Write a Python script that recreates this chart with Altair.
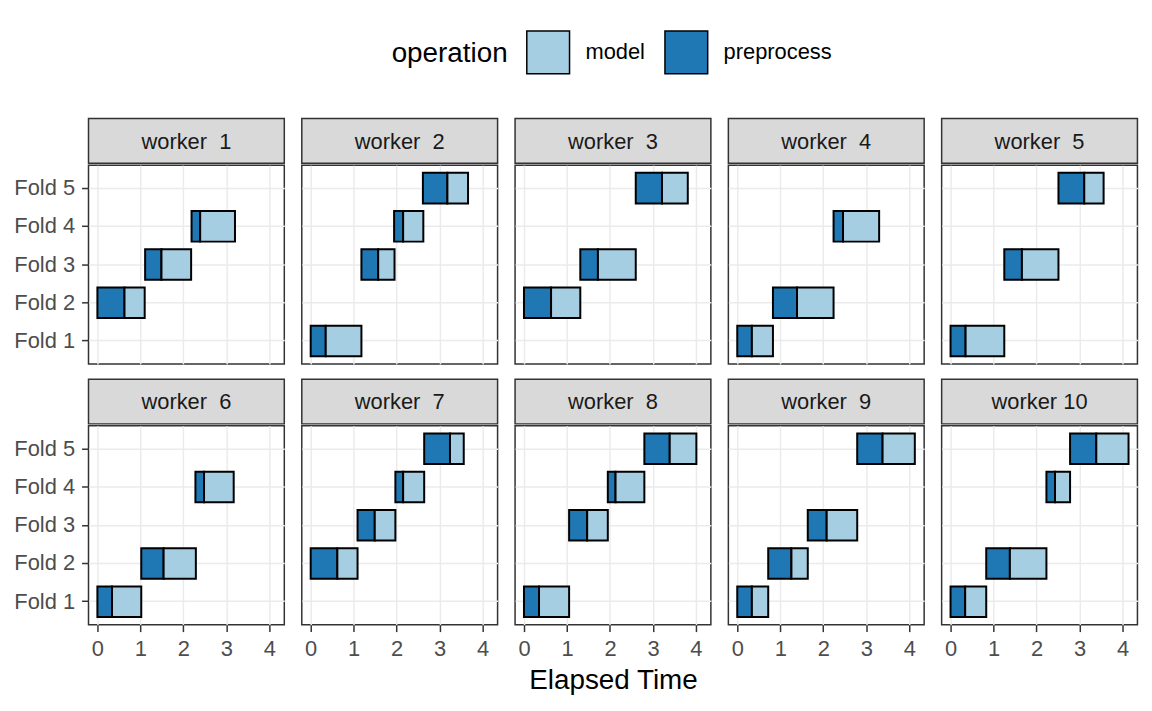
import altair as alt
import pandas as pd

FONT = "Liberation Sans"

# ---- data ----
worker_ids = [1, 1, 1,
              2, 2, 2, 2,
              3, 3, 3,
              4, 4, 4,
              5, 5, 5,
              6, 6, 6,
              7, 7, 7, 7,
              8, 8, 8, 8,
              9, 9, 9, 9,
              10, 10, 10, 10]
fold_ids = [2, 3, 4,
            1, 3, 4, 5,
            2, 3, 5,
            1, 2, 4,
            1, 3, 5,
            1, 2, 4,
            2, 3, 4, 5,
            1, 3, 4, 5,
            1, 2, 3, 5,
            1, 2, 4, 5]
pre_start = [0.00, 1.11, 2.19,
             0.00, 1.18, 1.94, 2.61,
             0.00, 1.31, 2.60,
             0.00, 0.83, 2.24,
             0.00, 1.25, 2.51,
             0.00, 1.02, 2.28,
             0.00, 1.09, 1.97, 2.64,
             0.00, 1.05, 1.95, 2.80,
             0.00, 0.72, 1.64, 2.79,
             0.00, 0.83, 2.23, 2.78]
pre_end = [0.63, 1.49, 2.39,
           0.35, 1.57, 2.15, 3.18,
           0.63, 1.72, 3.21,
           0.34, 1.39, 2.46,
           0.35, 1.66, 3.11,
           0.34, 1.54, 2.48,
           0.62, 1.49, 2.15, 3.24,
           0.35, 1.47, 2.13, 3.39,
           0.34, 1.26, 2.08, 3.38,
           0.34, 1.38, 2.43, 3.39]
model_end = [1.10, 2.18, 3.20,
             1.18, 1.95, 2.62, 3.66,
             1.31, 2.60, 3.81,
             0.83, 2.24, 3.30,
             1.25, 2.51, 3.56,
             1.02, 2.29, 3.17,
             1.09, 1.97, 2.64, 3.56,
             1.05, 1.95, 2.80, 4.01,
             0.72, 1.64, 2.79, 4.13,
             0.83, 2.23, 2.78, 4.14]

fold_labels = ["Fold 5", "Fold 4", "Fold 3", "Fold 2", "Fold 1"]
operations = ["model", "preprocess"]
op_colors = ["#A6CEE3", "#1F78B4"]
x_ticks = [0, 1, 2, 3, 4]

rows = []
for w, f, s, p, m in zip(worker_ids, fold_ids, pre_start, pre_end, model_end):
    rows.append({"worker": w, "fold": f"Fold {f}", "operation": "preprocess", "start": s, "end": p})
    rows.append({"worker": w, "fold": f"Fold {f}", "operation": "model", "start": p, "end": m})
df = pd.DataFrame(rows)

W = 197
H = 200
SH = 45
xmax = max(model_end)
pad = 0.05 * xmax
xdomain = [-pad, xmax + pad]

color = alt.Color(
    "operation:N",
    scale=alt.Scale(domain=operations, range=op_colors),
    legend=alt.Legend(
        orient="none", legendX=305, legendY=-89, direction="horizontal",
        title="operation", titleOrient="left", titleFontSize=28, titleFont=FONT,
        titleFontWeight="normal", titleColor="black", titlePadding=18,
        labelFontSize=22, labelFont=FONT, labelColor="black", labelOffset=15,
        symbolType="square", symbolSize=1849, symbolStrokeColor="black",
        symbolStrokeWidth=1.5, symbolOpacity=1, columnPadding=17,
    ),
)


def panel(w, r, c):
    sub = df[df["worker"] == w]
    bottom = r == 1
    left = c == 0
    xax = alt.Axis(values=x_ticks, grid=True, labels=bottom, ticks=bottom,
                   title="Elapsed Time" if (bottom and c == 2) else None,
                   labelPadding=7, titlePadding=7)
    yax = alt.Axis(grid=True, labels=left, ticks=left, title=None, labelPadding=7)
    main = alt.Chart(sub).mark_bar(stroke="black", strokeWidth=2).encode(
        x=alt.X("start:Q", scale=alt.Scale(domain=xdomain, nice=False, zero=False), axis=xax),
        x2="end:Q",
        y=alt.Y("fold:N", sort=fold_labels,
                scale=alt.Scale(domain=fold_labels, paddingInner=0.2, paddingOuter=0.2),
                axis=yax),
        color=color,
    ).properties(width=W, height=H)
    label = f"worker {w}" if w >= 10 else f"worker \u00a0{w}"
    strip = alt.Chart(pd.DataFrame({"label": [label]})).mark_text(
        font=FONT, fontSize=22, color="#1A1A1A", baseline="middle", align="center"
    ).encode(
        text="label:N", x=alt.value(W / 2), y=alt.value(SH / 2 + 1)
    ).properties(width=W, height=SH,
                 view=alt.ViewBackground(fill="#D9D9D9", stroke="#333333", strokeWidth=1.5))
    return alt.vconcat(strip, main, spacing=0)


row_charts = []
for r in range(2):
    cols = [panel(r * 5 + c + 1, r, c) for c in range(5)]
    row_charts.append(alt.hconcat(*cols, spacing=15.6))

chart = alt.vconcat(*row_charts, spacing=13.3).properties(
    padding={"left": 5, "top": 20, "right": 5, "bottom": 5}
).configure_view(
    stroke="#333333", strokeWidth=1.5
).configure_axis(
    labelFont=FONT, labelFontSize=22, labelColor="#4D4D4D",
    tickColor="#333333", tickWidth=1.5, tickSize=7,
    gridColor="#EBEBEB", gridWidth=1.5, domain=False,
    titleFont=FONT, titleFontSize=28, titleColor="black", titleFontWeight="normal",
)

chart.save("out.html", embed_options={"renderer": "svg", "actions": False})
